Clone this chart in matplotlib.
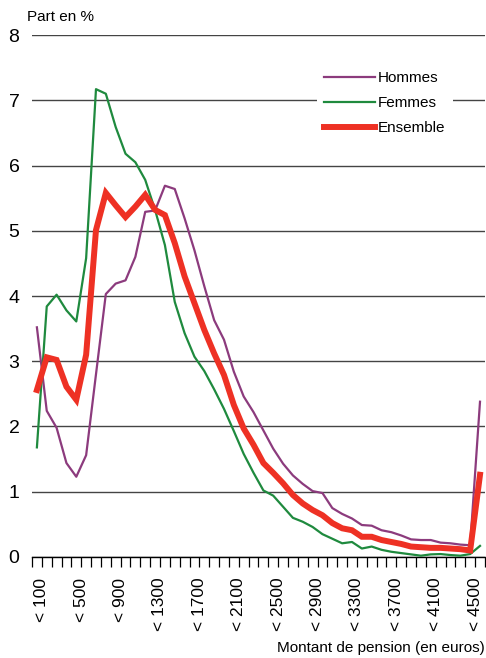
import matplotlib.pyplot as plt
import numpy as np

plt.rcParams['font.family'] = ['Liberation Sans Narrow', 'Liberation Sans', 'DejaVu Sans']

# Bins of 100 euros: < 100, < 200, ..., < 4500, then >= 4500
bins = ['< {}'.format(v) for v in range(100, 4600, 100)] + ['>= 4500']

hommes = [3.52, 2.24, 1.98, 1.44, 1.23, 1.56, 2.80, 4.03, 4.19, 4.24,
          4.60, 5.29, 5.31, 5.69, 5.64, 5.19, 4.70, 4.15, 3.63, 3.33,
          2.84, 2.46, 2.22, 1.94, 1.66, 1.43, 1.25, 1.12, 1.01, 0.98,
          0.75, 0.66, 0.59, 0.49, 0.48, 0.41, 0.38, 0.33, 0.27, 0.26,
          0.26, 0.22, 0.21, 0.19, 0.18, 2.38]
femmes = [1.68, 3.84, 4.02, 3.78, 3.61, 4.58, 7.17, 7.10, 6.59, 6.18,
          6.05, 5.78, 5.32, 4.78, 3.91, 3.43, 3.07, 2.85, 2.57, 2.27,
          1.93, 1.58, 1.29, 1.02, 0.94, 0.77, 0.60, 0.54, 0.46, 0.35,
          0.28, 0.21, 0.23, 0.13, 0.16, 0.11, 0.08, 0.06, 0.04, 0.02,
          0.04, 0.045, 0.03, 0.02, 0.045, 0.17]
ensemble = [2.56, 3.06, 3.02, 2.61, 2.41, 3.10, 5.01, 5.58, 5.39, 5.21,
            5.37, 5.55, 5.32, 5.24, 4.81, 4.30, 3.89, 3.48, 3.12, 2.79,
            2.33, 1.97, 1.72, 1.44, 1.29, 1.13, 0.95, 0.82, 0.72, 0.64,
            0.52, 0.44, 0.41, 0.31, 0.31, 0.26, 0.23, 0.20, 0.16, 0.15,
            0.14, 0.14, 0.13, 0.12, 0.10, 1.26]

tick_labels = ['< {}'.format(v) for v in range(100, 4600, 400)]

fig = plt.figure(figsize=(4.86, 6.58), dpi=100)
ax = fig.add_axes([0.0658, 0.1535, 0.932, 0.7933])

x = np.arange(len(bins))
ax.plot(x, hommes, color='#8c3b7d', lw=1.6, label='Hommes', zorder=3)
ax.plot(x, femmes, color='#1f8a3e', lw=1.6, label='Femmes', zorder=3)
ax.plot(x, ensemble, color='#ee3124', lw=4.3, label='Ensemble', zorder=4,
        solid_joinstyle='miter')

ax.set_xlim(-0.5, len(bins) - 0.5)
ax.set_ylim(0, 8)
ax.set_yticks(range(0, 9))
ax.yaxis.grid(True, color='#444444', lw=1.0)
ax.set_axisbelow(True)
ax.tick_params(axis='y', length=0, pad=9, labelsize=14)

# tick marks on bin boundaries, labels every 400 euros
bounds = np.arange(-0.5, len(bins), 1.0)
ax.set_xticks(bounds)
labs = [''] * len(bounds)
for i, t in enumerate(tick_labels):
    labs[1 + 4 * i] = t
ax.set_xticklabels(labs, rotation=90, fontsize=12.5)
ax.tick_params(axis='x', length=7, width=0.9, direction='out', pad=8)

for s in ['top', 'right', 'left']:
    ax.spines[s].set_visible(False)
ax.spines['bottom'].set_linewidth(1.0)

fig.text(0.056, 0.974, 'Part en %', fontsize=11, va='center')
fig.text(0.998, 0.004, 'Montant de pension (en euros)', fontsize=11,
         ha='right', va='bottom')

leg = ax.legend(loc='upper left', bbox_to_anchor=(0.612, 0.96), fontsize=11,
                handlelength=3.3, handletextpad=0.2, labelspacing=0.72,
                frameon=True, facecolor='white', edgecolor='none',
                framealpha=1, borderpad=0.5, fancybox=False)

fig.savefig('out.png', dpi=100)
